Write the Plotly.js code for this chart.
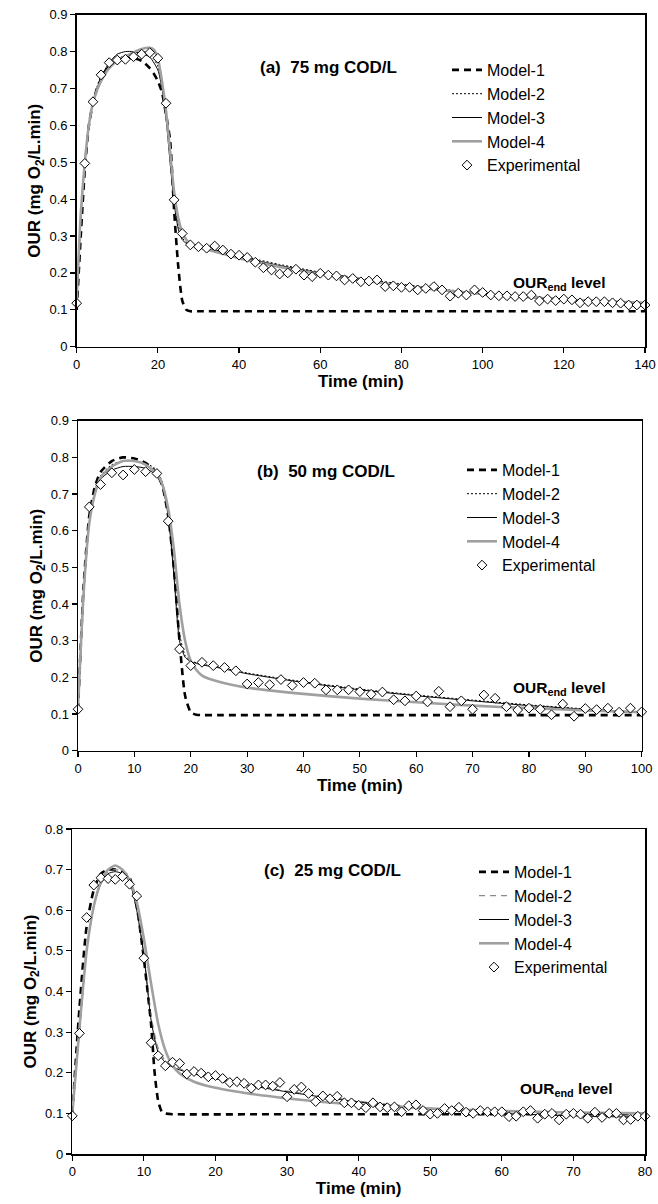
<!DOCTYPE html>
<html>
<head>
<meta charset="utf-8">
<script src="https://cdn.plot.ly/plotly-3.0.1.min.js"></script>
<style>html,body{margin:0;padding:0;background:#fff;}#chart{width:658px;height:1204px;}</style>
</head>
<body>
<div id="chart"></div>
<script>
// ---------- Panel (a): 75 mg COD/L ----------
const expTimeA = [0,2,4,6,8,10,12,14,16,18,20,22,24,26,28,30,32,34,36,38,40,42,44,46,48,50,52,54,56,58,60,62,64,66,68,70,72,74,76,78,80,82,84,86,88,90,92,94,96,98,100,102,104,106,108,110,112,114,116,118,120,122,124,126,128,130,132,134,136,138,140];
const expOURA = [0.118,0.497,0.664,0.737,0.770,0.777,0.779,0.786,0.793,0.797,0.782,0.660,0.398,0.307,0.276,0.271,0.267,0.273,0.262,0.251,0.248,0.242,0.229,0.214,0.208,0.197,0.200,0.210,0.194,0.190,0.199,0.194,0.192,0.181,0.185,0.176,0.178,0.181,0.163,0.165,0.161,0.161,0.154,0.158,0.163,0.154,0.137,0.145,0.140,0.154,0.147,0.140,0.138,0.138,0.136,0.136,0.140,0.124,0.129,0.125,0.129,0.127,0.119,0.122,0.122,0.122,0.119,0.118,0.113,0.113,0.113];
const m1TimeA = [0,1,2,3,4,5,6,8,10,12,14,16,18,19,20,21,22,23,24,25,26,27,28,30,60,100,140];
const m1A = [0.100,0.300,0.480,0.600,0.660,0.700,0.725,0.760,0.775,0.783,0.782,0.775,0.755,0.740,0.720,0.690,0.630,0.560,0.370,0.220,0.125,0.100,0.096,0.096,0.096,0.096,0.096];
const modTimeA = [0,1,2,3,4,5,6,8,10,12,14,16,18,20,21,22,23,24,25,26,27,28,30,35,40,45,50,60,70,80,90,100,110,120,130,140];
const m2A = [0.110,0.340,0.500,0.600,0.665,0.705,0.735,0.765,0.780,0.790,0.795,0.800,0.795,0.760,0.710,0.630,0.510,0.400,0.330,0.295,0.283,0.277,0.272,0.260,0.248,0.235,0.223,0.202,0.185,0.170,0.156,0.145,0.137,0.130,0.124,0.120];
const m3A = [0.110,0.350,0.500,0.600,0.665,0.700,0.730,0.770,0.793,0.800,0.800,0.795,0.785,0.750,0.700,0.620,0.500,0.390,0.320,0.290,0.280,0.275,0.270,0.258,0.245,0.232,0.220,0.200,0.182,0.167,0.153,0.143,0.135,0.128,0.122,0.118];
const m4TimeA = [0,1,2,3,4,5,6,8,10,12,14,16,18,19,20,21,22,23,24,25,26,27,28,30,35,40,45,50,60,70,80,90,100,110,120,130,140];
const m4A = [0.130,0.360,0.500,0.600,0.660,0.695,0.720,0.755,0.775,0.788,0.798,0.807,0.810,0.805,0.780,0.720,0.640,0.530,0.420,0.350,0.310,0.290,0.280,0.270,0.255,0.240,0.228,0.216,0.197,0.180,0.166,0.153,0.143,0.135,0.128,0.123,0.119];

// ---------- Panel (b): 50 mg COD/L ----------
const expTimeB = [0,2,4,6,8,10,12,14,16,18,20,22,24,26,28,30,32,34,36,38,40,42,44,46,48,50,52,54,56,58,60,62,64,66,68,70,72,74,76,78,80,82,84,86,88,90,92,94,96,98,100];
const expOURB = [0.113,0.665,0.726,0.758,0.752,0.767,0.761,0.756,0.626,0.277,0.232,0.241,0.232,0.227,0.218,0.182,0.186,0.180,0.194,0.178,0.186,0.184,0.166,0.166,0.166,0.161,0.154,0.160,0.139,0.136,0.149,0.133,0.162,0.120,0.136,0.113,0.152,0.143,0.120,0.111,0.116,0.113,0.098,0.127,0.094,0.115,0.112,0.116,0.105,0.116,0.106];
const m1TimeB = [0,1,2,3,4,6,8,10,12,14,15,16,17,18,19,20,21,22,25,50,75,100];
const m1B = [0.110,0.450,0.640,0.720,0.760,0.790,0.800,0.797,0.785,0.755,0.720,0.640,0.500,0.300,0.150,0.105,0.098,0.097,0.097,0.097,0.097,0.097];
const modTimeB = [0,1,2,3,4,6,8,10,12,14,15,16,17,18,19,20,21,22,25,30,40,50,60,70,80,90,100];
const m2B = [0.110,0.420,0.620,0.710,0.750,0.780,0.790,0.790,0.785,0.765,0.730,0.650,0.500,0.320,0.260,0.245,0.240,0.236,0.228,0.212,0.188,0.168,0.152,0.138,0.125,0.114,0.105];
const m3B = [0.110,0.420,0.620,0.700,0.740,0.765,0.775,0.775,0.770,0.750,0.720,0.640,0.480,0.300,0.255,0.243,0.238,0.234,0.226,0.210,0.186,0.166,0.150,0.136,0.123,0.113,0.105];
const m4B = [0.120,0.430,0.620,0.700,0.745,0.775,0.790,0.790,0.780,0.755,0.725,0.660,0.550,0.400,0.300,0.245,0.220,0.205,0.188,0.172,0.155,0.142,0.132,0.123,0.116,0.110,0.105];

// ---------- Panel (c): 25 mg COD/L ----------
const expTimeC = [0,1,2,3,4,5,6,7,8,9,10,11,12,13,14,15,16,17,18,19,20,21,22,23,24,25,26,27,28,29,30,31,32,33,34,35,36,37,38,39,40,41,42,43,44,45,46,47,48,49,50,51,52,53,54,55,56,57,58,59,60,61,62,63,64,65,66,67,68,69,70,71,72,73,74,75,76,77,78,79,80];
const expOURC = [0.094,0.297,0.582,0.662,0.680,0.678,0.676,0.683,0.664,0.635,0.482,0.274,0.242,0.217,0.226,0.223,0.197,0.203,0.199,0.190,0.193,0.186,0.176,0.178,0.174,0.162,0.170,0.170,0.167,0.176,0.141,0.159,0.165,0.149,0.129,0.143,0.136,0.142,0.126,0.126,0.120,0.114,0.126,0.116,0.114,0.116,0.104,0.119,0.121,0.107,0.098,0.100,0.112,0.107,0.115,0.103,0.100,0.107,0.104,0.104,0.104,0.092,0.093,0.104,0.107,0.088,0.098,0.100,0.084,0.098,0.100,0.098,0.088,0.103,0.090,0.100,0.100,0.084,0.085,0.093,0.093];
const m1TimeC = [0,1,2,3,4,5,6,7,8,9,10,11,11.5,12,12.5,13,14,30,55,80];
const m1C = [0.100,0.360,0.560,0.650,0.690,0.700,0.700,0.695,0.680,0.610,0.480,0.320,0.200,0.130,0.105,0.100,0.098,0.098,0.098,0.098];
const modTimeC = [0,1,2,3,4,5,6,7,8,9,10,11,12,13,14,15,17,20,25,30,35,40,50,60,70,80];
const m2C = [0.095,0.300,0.500,0.610,0.670,0.695,0.700,0.695,0.670,0.600,0.490,0.340,0.260,0.230,0.218,0.210,0.200,0.188,0.170,0.155,0.142,0.130,0.113,0.102,0.096,0.092];
const m3C = [0.095,0.300,0.500,0.610,0.665,0.690,0.695,0.690,0.670,0.600,0.490,0.330,0.250,0.225,0.214,0.207,0.197,0.185,0.168,0.153,0.140,0.128,0.111,0.100,0.094,0.090];
const m4C = [0.100,0.310,0.500,0.610,0.670,0.700,0.710,0.700,0.675,0.620,0.530,0.420,0.320,0.255,0.218,0.198,0.178,0.163,0.148,0.137,0.128,0.121,0.112,0.106,0.102,0.100];

// ---------- Labels ----------
const seriesNames = ['Model-1','Model-2','Model-3','Model-4','Experimental'];
const panelTitles = ['(a)  75 mg COD/L','(b)  50 mg COD/L','(c)  25 mg COD/L'];
const endLabel = 'OUR<sub>end</sub> level';
const yTitle = 'OUR (mg O<sub>2</sub>/L.min)';
const xTitle = 'Time (min)';

const FONT = 'Liberation Sans, Arial, Helvetica, sans-serif';

function panel(idx, data) {
  const sfx = idx === 0 ? '' : String(idx + 1);
  const xa = 'x' + sfx, ya = 'y' + sfx;
  const lg = 'legend' + sfx;
  const m2style = idx === 2 ? {color:'#8a8a8a', width:1.2, dash:'6px,5px'} : {color:'#000', width:1, dash:'2px,2px'};
  return [
    {x:data.t1, y:data.m1, name:seriesNames[0], mode:'lines', line:{color:'#000', width:2.6, dash:'7px,5px', shape:'spline', smoothing:0.6}, xaxis:xa, yaxis:ya, legend:lg},
    {x:data.tm, y:data.m2, name:seriesNames[1], mode:'lines', line:Object.assign({shape:'spline', smoothing:0.6}, m2style), xaxis:xa, yaxis:ya, legend:lg},
    {x:data.tm, y:data.m3, name:seriesNames[2], mode:'lines', line:{color:'#000', width:1, shape:'spline', smoothing:0.6}, xaxis:xa, yaxis:ya, legend:lg},
    {x:data.t4, y:data.m4, name:seriesNames[3], mode:'lines', line:{color:'#a0a0a0', width:2.6, shape:'spline', smoothing:0.6}, xaxis:xa, yaxis:ya, legend:lg},
    {x:data.te, y:data.ye, name:seriesNames[4], mode:'markers', marker:{symbol:'diamond', size:7.5, color:'#fff', line:{color:'#000', width:1}}, cliponaxis:false, xaxis:xa, yaxis:ya, legend:lg}
  ];
}

const traces = [].concat(
  panel(0, {t1:m1TimeA, m1:m1A, tm:modTimeA, m2:m2A, m3:m3A, t4:m4TimeA, m4:m4A, te:expTimeA, ye:expOURA}),
  panel(1, {t1:m1TimeB, m1:m1B, tm:modTimeB, m2:m2B, m3:m3B, t4:modTimeB, m4:m4B, te:expTimeB, ye:expOURB}),
  panel(2, {t1:m1TimeC, m1:m1C, tm:modTimeC, m2:m2C, m3:m3C, t4:modTimeC, m4:m4C, te:expTimeC, ye:expOURC})
);

const H = 1204, W = 658;
function px2fx(p){return p/W;}
function py2fy(p){return 1 - p/H;}

function xAxis(dom, yanchor, range, dtick) {
  return {domain:[px2fx(dom[0]), px2fx(dom[1])], anchor:yanchor, range:range, dtick:dtick, tick0:0,
    showline:true, linecolor:'#000', linewidth:1.5, mirror:true, ticks:'outside', ticklen:5, tickwidth:1.2, tickcolor:'#000',
    showgrid:false, zeroline:false, tickfont:{family:FONT, size:13, color:'#000'},
    title:{text:xTitle, font:{family:FONT, size:17, color:'#000', weight:'bold'}, standoff:4}};
}
function yAxis(dom, xanchor, range) {
  return {domain:[py2fy(dom[1]), py2fy(dom[0])], anchor:xanchor, range:range, dtick:0.1, tick0:0,
    showline:true, linecolor:'#000', linewidth:1.5, mirror:true, ticks:'outside', ticklen:5, tickwidth:1.2, tickcolor:'#000',
    showgrid:false, zeroline:false, tickfont:{family:FONT, size:13, color:'#000'},
    title:{text:yTitle, font:{family:FONT, size:17, color:'#000', weight:'bold'}, standoff:4}};
}
function legendAt(xp, yp) {
  return {x:px2fx(xp), y:py2fy(yp), xanchor:'left', yanchor:'top', bgcolor:'rgba(0,0,0,0)',
    font:{family:FONT, size:16, color:'#000'}, tracegroupgap:0, itemwidth:30};
}
function ann(text, xref, yref, x, y, size) {
  return {text:text, xref:xref, yref:yref, x:x, y:y, showarrow:false, xanchor:'center', yanchor:'middle',
    font:{family:FONT, size:size, color:'#000', weight:'bold'}};
}

const layout = {
  width:W, height:H, margin:{l:0, r:0, t:0, b:0}, paper_bgcolor:'#fff', plot_bgcolor:'#fff',
  showlegend:true,
  xaxis: xAxis([76.7, 645], 'y', [0, 140], 20),
  yaxis: yAxis([14.7, 346.7], 'x', [0, 0.9]),
  xaxis2: xAxis([78, 641.7], 'y2', [0, 100], 10),
  yaxis2: yAxis([420.7, 750.7], 'x2', [0, 0.9]),
  xaxis3: xAxis([72.3, 645], 'y3', [0, 80], 10),
  yaxis3: yAxis([829, 1154], 'x3', [0, 0.8]),
  legend: legendAt(447, 53),
  legend2: legendAt(462, 453),
  legend3: legendAt(474, 855),
  annotations: [
    ann(panelTitles[0], 'x', 'y', 62, 0.758, 17),
    ann(panelTitles[1], 'x2', 'y2', 44, 0.761, 17),
    ann(panelTitles[2], 'x3', 'y3', 36.3, 0.699, 17),
    ann(endLabel, 'x', 'y', 119, 0.172, 15.5),
    ann(endLabel, 'x2', 'y2', 85.5, 0.17, 15.5),
    ann(endLabel, 'x3', 'y3', 69, 0.16, 15.5)
  ]
};

Plotly.newPlot('chart', traces, layout, {displayModeBar:false, staticPlot:true});
</script>
</body>
</html>
